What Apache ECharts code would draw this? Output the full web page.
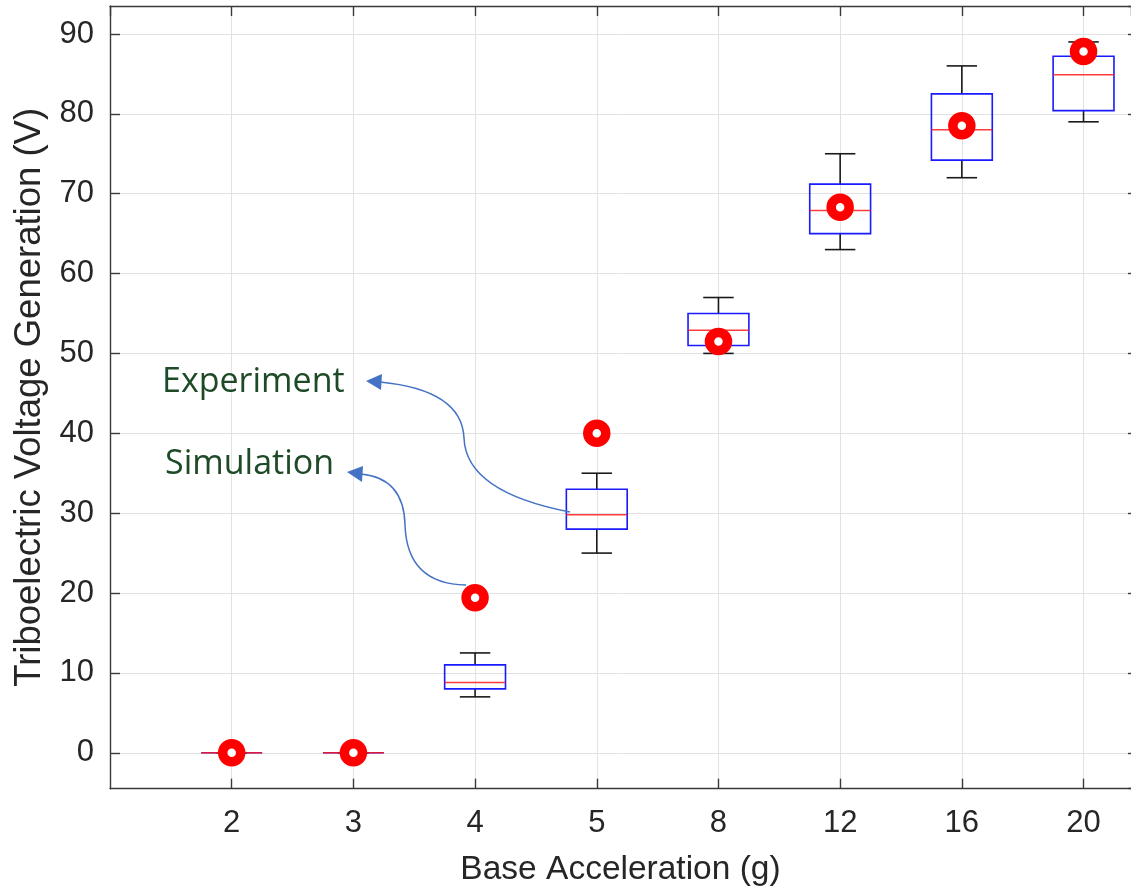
<!DOCTYPE html>
<html>
<head>
<meta charset="utf-8">
<script src="https://cdn.jsdelivr.net/npm/echarts@6/dist/echarts.min.js"></script>
<style>
html,body{margin:0;padding:0;background:#fff;}
#main{width:1131px;height:896px;}
</style>
</head>
<body>
<div id="main"></div>
<script>
// ---- data ----
const categories = ['2', '3', '4', '5', '8', '12', '16', '20'];
const whiskerLow  = [0, 0, 7.0, 25.0, 50.0, 63.0, 72.0, 79.0];
const quartile1   = [0, 0, 8.0, 28.0, 51.0, 65.0, 74.2, 80.4];
const medianVal   = [0, 0, 8.8, 29.8, 52.9, 67.9, 78.0, 84.9];
const quartile3   = [0, 0, 11.0, 33.0, 55.0, 71.2, 82.5, 87.2];
const whiskerHigh = [0, 0, 12.5, 35.0, 57.0, 75.0, 86.0, 89.0];
const simulation  = [0, 0, 19.4, 40.0, 51.5, 68.3, 78.5, 87.8];
const yTicks = [0, 10, 20, 30, 40, 50, 60, 70, 80, 90];

const boxData = categories.map((c, i) => [i + 1, whiskerLow[i], quartile1[i], medianVal[i], quartile3[i], whiskerHigh[i]]);
const simData = categories.map((c, i) => [i + 1, simulation[i]]);

const chart = echarts.init(document.getElementById('main'), null, {renderer: 'canvas'});

const axisColor = '#3a3a3a';
const gridColor = '#e2e2e2';
const tickFont = 'Liberation Sans, Arial, Helvetica, sans-serif';
const X_MAX = 8.39;

function xLabel(v) {
  const idx = Math.round(v) - 1;
  if (Math.abs(v - Math.round(v)) > 1e-6 || idx < 0 || idx >= categories.length) return '';
  return categories[idx];
}
function yLabel(v) {
  return yTicks.indexOf(Math.round(v * 1000) / 1000) >= 0 ? String(v) : '';
}

const option = {
  backgroundColor: '#ffffff',
  animation: false,
  grid: {left: 110, top: 6, right: 0, height: 782.7, containLabel: false},
  xAxis: [{
    type: 'value', min: 0, max: X_MAX, interval: 1, position: 'bottom',
    name: 'Base Acceleration (g)', nameLocation: 'middle', nameGap: 64,
    nameTextStyle: {fontFamily: tickFont, fontSize: 33.5, color: '#262626'},
    axisLine: {show: true, onZero: false, lineStyle: {color: axisColor, width: 1.4}},
    axisTick: {show: true, inside: true, length: 10, lineStyle: {color: axisColor, width: 1.4}},
    axisLabel: {formatter: xLabel, fontFamily: tickFont, fontSize: 31, color: '#262626', margin: 19, showMinLabel: false, showMaxLabel: false},
    splitLine: {show: true, lineStyle: {color: gridColor, width: 1}}
  }, {
    type: 'value', min: 0, max: X_MAX, interval: 1, position: 'top',
    axisLine: {show: true, onZero: false, lineStyle: {color: axisColor, width: 1.4}},
    axisTick: {show: true, inside: true, length: 10, lineStyle: {color: axisColor, width: 1.4}},
    axisLabel: {show: false},
    splitLine: {show: false}
  }],
  yAxis: [{
    type: 'value', min: -4.5, max: 93.5, splitNumber: 10, position: 'left',
    name: 'Triboelectric Voltage Generation (V)', nameLocation: 'middle', nameGap: 62,
    nameTextStyle: {fontFamily: tickFont, fontSize: 36.5, color: '#262626'},
    axisLine: {show: true, onZero: false, lineStyle: {color: axisColor, width: 1.4}},
    axisTick: {show: true, inside: true, length: 10, lineStyle: {color: axisColor, width: 1.4}},
    axisLabel: {formatter: yLabel, fontFamily: tickFont, fontSize: 31, color: '#262626', margin: 16, showMinLabel: false, showMaxLabel: false},
    splitLine: {show: true, lineStyle: {color: gridColor, width: 1}}
  }, {
    type: 'value', min: -4.5, max: 93.5, splitNumber: 10, position: 'right',
    axisLine: {show: false, onZero: false},
    axisTick: {show: true, inside: true, length: 3, lineStyle: {color: axisColor, width: 1.4}},
    axisLabel: {show: false},
    splitLine: {show: false}
  }],
  series: [{
    type: 'custom',
    name: 'Experiment',
    xAxisIndex: 0, yAxisIndex: 0,
    data: boxData,
    encode: {x: 0, y: [1, 2, 3, 4, 5]},
    z: 3,
    renderItem: function (params, api) {
      const x = api.value(0);
      const pLow = api.coord([x, api.value(1)]);
      const pQ1 = api.coord([x, api.value(2)]);
      const pMed = api.coord([x, api.value(3)]);
      const pQ3 = api.coord([x, api.value(4)]);
      const pHigh = api.coord([x, api.value(5)]);
      const halfBox = api.size([0.25, 0])[0];
      const halfCap = api.size([0.125, 0])[0];
      const cx = pMed[0];
      const wStyle = {stroke: '#1a1a1a', lineWidth: 1.6, fill: null};
      return {
        type: 'group',
        children: [
          {type: 'line', shape: {x1: cx, y1: pQ3[1], x2: cx, y2: pHigh[1]}, style: wStyle},
          {type: 'line', shape: {x1: cx, y1: pQ1[1], x2: cx, y2: pLow[1]}, style: wStyle},
          {type: 'line', shape: {x1: cx - halfCap, y1: pHigh[1], x2: cx + halfCap, y2: pHigh[1]}, style: wStyle},
          {type: 'line', shape: {x1: cx - halfCap, y1: pLow[1], x2: cx + halfCap, y2: pLow[1]}, style: wStyle},
          {type: 'rect', shape: {x: cx - halfBox, y: pQ3[1], width: halfBox * 2, height: pQ1[1] - pQ3[1]},
            style: {stroke: '#1a1aff', lineWidth: 1.6, fill: 'rgba(0,0,0,0)'}},
          {type: 'line', shape: {x1: cx - halfBox, y1: pMed[1], x2: cx + halfBox, y2: pMed[1]},
            style: {stroke: '#ff1a1a', lineWidth: 1.6, opacity: 0.85}}
        ]
      };
    }
  }, {
    type: 'scatter',
    name: 'Simulation',
    xAxisIndex: 0, yAxisIndex: 0,
    data: simData,
    symbol: 'circle',
    symbolSize: 18,
    z: 5,
    itemStyle: {color: '#ffffff', borderColor: '#ff0000', borderWidth: 9.5, opacity: 1}
  }],
  graphic: [
    {type: 'text', left: 162, top: 365, z: 100,
      style: {text: 'Experiment', font: '34px "Open Sans", Lato, sans-serif', fill: '#1e4a27'}},
    {type: 'text', left: 165, top: 447, z: 100,
      style: {text: 'Simulation', font: '34px "Open Sans", Lato, sans-serif', fill: '#1e4a27'}},
    {type: 'bezierCurve', z: 100, shape: {x1: 380, y1: 382, cpx1: 462, cpy1: 390, x2: 464, y2: 438},
      style: {stroke: '#4472c4', lineWidth: 1.5, fill: null}},
    {type: 'bezierCurve', z: 100, shape: {x1: 464, y1: 438, cpx1: 466, cpy1: 492, x2: 570, y2: 512},
      style: {stroke: '#4472c4', lineWidth: 1.5, fill: null}},
    {type: 'polygon', z: 100, shape: {points: [[366, 381], [382, 374], [381, 390]]},
      style: {fill: '#4472c4'}},
    {type: 'bezierCurve', z: 100, shape: {x1: 361, y1: 474, cpx1: 404, cpy1: 478, x2: 405, y2: 525},
      style: {stroke: '#4472c4', lineWidth: 1.5, fill: null}},
    {type: 'bezierCurve', z: 100, shape: {x1: 405, y1: 525, cpx1: 407, cpy1: 584, x2: 466, y2: 585},
      style: {stroke: '#4472c4', lineWidth: 1.5, fill: null}},
    {type: 'polygon', z: 100, shape: {points: [[347, 472], [363, 466], [362, 482]]},
      style: {fill: '#4472c4'}}
  ]
};
chart.setOption(option);
</script>
</body>
</html>
